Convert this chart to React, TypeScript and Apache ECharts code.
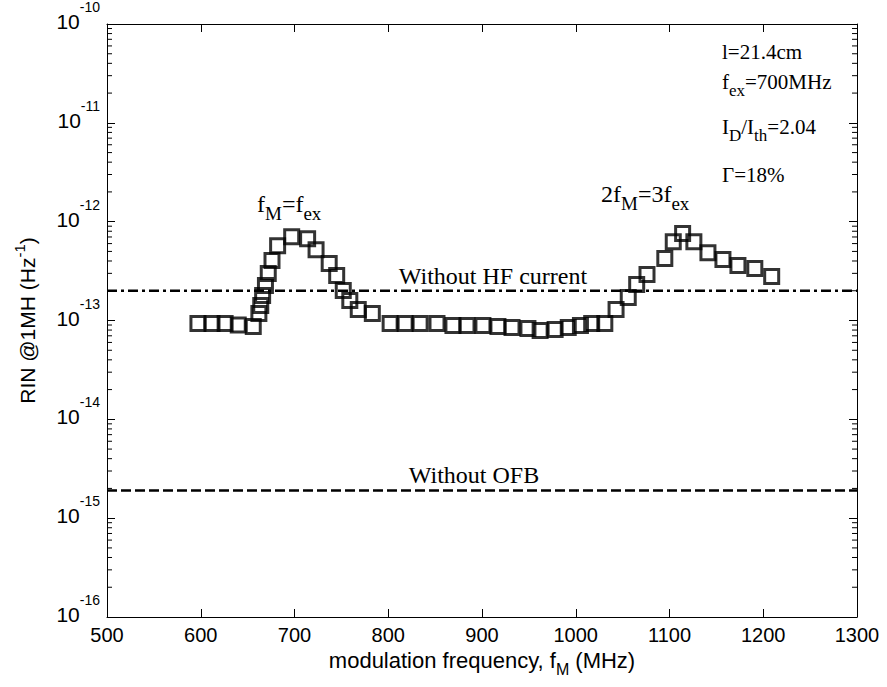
import React, { useEffect, useRef } from "react";
import * as echarts from "echarts";

// modulation frequency (MHz)
const freq = [597, 612, 626, 640, 656, 662, 664, 666, 669, 672, 676, 682, 697, 714, 723, 737, 745, 752, 759, 768, 783,
  802, 818, 834, 852, 869, 884, 901, 917, 932, 949, 962, 978, 992, 1005, 1017, 1031, 1043, 1056, 1065, 1076, 1095,
  1104, 1114, 1126, 1141, 1157, 1173, 1191, 1209];
// RIN (Hz^-1)
const rin = [9.3e-14, 9.3e-14, 9.3e-14, 9.0e-14, 8.7e-14, 1.18e-13, 1.42e-13, 1.79e-13, 2.26e-13, 2.99e-13, 4.04e-13,
  5.72e-13, 7.05e-13, 6.73e-13, 5.21e-13, 3.77e-13, 2.85e-13, 2.01e-13, 1.59e-13, 1.29e-13, 1.18e-13,
  9.3e-14, 9.3e-14, 9.3e-14, 9.3e-14, 8.9e-14, 8.9e-14, 8.9e-14, 8.7e-14, 8.5e-14, 8.3e-14, 7.9e-14, 8.1e-14,
  8.5e-14, 8.9e-14, 9.3e-14, 9.3e-14, 1.29e-13, 1.71e-13, 2.31e-13, 2.92e-13, 4.23e-13, 6.28e-13, 7.57e-13,
  6.28e-13, 4.86e-13, 4.13e-13, 3.6e-13, 3.35e-13, 2.78e-13];

const hfLevel = 2.0e-13; // Without HF current
const ofbLevel = 1.9e-15; // Without OFB

const xMin = 500;
const xMax = 1300;
const xStep = 100;
const yMin = 1e-16;
const yMax = 1e-10;
const decadeExponents = [-16, -15, -14, -13, -12, -11];
const minorMultipliers = [2, 3, 4, 5, 6, 7, 8, 9];

const SANS = "'Liberation Sans', Arial, sans-serif";
const SERIF = "'Liberation Serif', 'Times New Roman', serif";

export default function App() {
  const ref = useRef<HTMLDivElement>(null);

  useEffect(() => {
    if (!ref.current) return;
    const chart = echarts.init(ref.current, undefined, { renderer: "svg" });

    const minorVals: number[][] = [];
    decadeExponents.forEach((e) => minorMultipliers.forEach((m) => minorVals.push([xMin, m * Math.pow(10, e)])));

    const mkRich = (base: number, sub: number, drop: number) => ({
      n: { fontFamily: SERIF, fontSize: base, color: "#000", verticalAlign: "bottom", lineHeight: base + 2, padding: [0, 0, drop, 0] },
      sub: { fontFamily: SERIF, fontSize: sub, color: "#000", verticalAlign: "bottom", lineHeight: sub + 2 },
    });

    const ann = (x: number, y: number, text: string, rich: any, align = "left") => ({
      type: "text",
      x,
      y,
      silent: true,
      style: {
        text,
        rich,
        align,
        verticalAlign: "middle",
        fill: "#000",
        font: `21px ${SERIF}`,
      },
    });

    const richBig = mkRich(24, 19, 7);
    const richSide = mkRich(21, 17, 6);

    const option: any = {
      animation: false,
      backgroundColor: "#fff",
      grid: { left: 107, right: 30, top: 23, bottom: 70, containLabel: false },
      xAxis: [
        {
          type: "value",
          min: xMin,
          max: xMax,
          interval: xStep,
          position: "bottom",
          axisLine: { show: true, onZero: false, lineStyle: { color: "#000", width: 1 } },
          axisTick: { show: true, inside: true, length: 8, lineStyle: { color: "#000" } },
          splitLine: { show: false },
          axisLabel: { color: "#000", fontFamily: SANS, fontSize: 20, margin: 8, formatter: (v: number) => String(v) },
          name: "{n|modulation frequency, f}{sub|M}{n| (MHz)}",
          nameLocation: "middle",
          nameGap: 36,
          nameTextStyle: {
            rich: {
              n: { fontFamily: SANS, fontSize: 22, color: "#000", verticalAlign: "bottom", lineHeight: 23, padding: [0, 0, 6, 0] },
              sub: { fontFamily: SANS, fontSize: 16, color: "#000", verticalAlign: "bottom", lineHeight: 17 },
            },
          },
        },
        {
          type: "value",
          min: xMin,
          max: xMax,
          interval: xStep,
          position: "top",
          axisLine: { show: true, onZero: false, lineStyle: { color: "#000", width: 1 } },
          axisTick: { show: true, inside: true, length: 8, lineStyle: { color: "#000" } },
          splitLine: { show: false },
          axisLabel: { show: false },
        },
      ],
      yAxis: [
        {
          type: "log",
          logBase: 10,
          min: yMin,
          max: yMax,
          splitNumber: 6,
          position: "left",
          axisLine: { show: true, onZero: false, lineStyle: { color: "#000", width: 1 } },
          axisTick: { show: true, inside: true, length: 8, lineStyle: { color: "#000" } },
          splitLine: { show: false },
          axisLabel: {
            margin: 7,
            formatter: (v: number) => `{b|10}{s|${Math.round(Math.log10(v))}}`,
            rich: {
              b: { fontFamily: SANS, fontSize: 21, color: "#000", verticalAlign: "bottom", lineHeight: 22, padding: [0, 0, 3, 0] },
              s: { fontFamily: SANS, fontSize: 14, color: "#000", verticalAlign: "bottom", lineHeight: 15, padding: [0, 0, 21, 0] },
            },
          },
          name: "{n|RIN @1MH (Hz}{s|-1}{n|)}",
          nameLocation: "middle",
          nameGap: 69,
          nameRotate: 90,
          nameTextStyle: {
            rich: {
              n: { fontFamily: SANS, fontSize: 21, color: "#000", verticalAlign: "bottom", lineHeight: 22 },
              s: { fontFamily: SANS, fontSize: 15, color: "#000", verticalAlign: "bottom", lineHeight: 16, padding: [0, 0, 11, 0] },
            },
          },
        },
        {
          type: "log",
          logBase: 10,
          min: yMin,
          max: yMax,
          splitNumber: 6,
          position: "right",
          axisLine: { show: true, onZero: false, lineStyle: { color: "#000", width: 1 } },
          axisTick: { show: true, inside: true, length: 8, lineStyle: { color: "#000" } },
          splitLine: { show: false },
          axisLabel: { show: false },
        },
      ],
      series: [
        {
          type: "custom",
          xAxisIndex: 0,
          yAxisIndex: 0,
          silent: true,
          clip: false,
          data: minorVals,
          renderItem: (_p: any, api: any) => {
            const v = api.value(1);
            const l = api.coord([xMin, v]);
            const r = api.coord([xMax, v]);
            return {
              type: "group",
              children: [
                { type: "line", shape: { x1: l[0], y1: l[1], x2: l[0] + 5, y2: l[1] }, style: { stroke: "#000", lineWidth: 1 } },
                { type: "line", shape: { x1: r[0], y1: r[1], x2: r[0] - 5, y2: r[1] }, style: { stroke: "#000", lineWidth: 1 } },
              ],
            };
          },
        },
        {
          type: "line",
          data: [[xMin, hfLevel], [xMax, hfLevel]],
          symbol: "none",
          silent: true,
          lineStyle: { color: "#000", width: 2.5, type: [10, 4, 3, 4] },
        },
        {
          type: "line",
          data: [[xMin, ofbLevel], [xMax, ofbLevel]],
          symbol: "none",
          silent: true,
          lineStyle: { color: "#000", width: 2.5, type: [10, 4] },
        },
        {
          type: "scatter",
          data: freq.map((f, i) => [f, rin[i]]),
          symbol: "rect",
          symbolSize: 14,
          silent: true,
          itemStyle: { color: "transparent", borderColor: "#000", borderWidth: 3 },
        },
      ],
      graphic: [
        ann(493, 275, "{n|Without HF current}", mkRich(24, 18, 0), "center"),
        ann(474, 474, "{n|Without OFB}", mkRich(24, 18, 0), "center"),
        ann(257, 210, "{n|f}{sub|M}{n|=f}{sub|ex}", richBig),
        ann(601, 200, "{n|2f}{sub|M}{n|=3f}{sub|ex}", richBig),
        ann(722, 51, "{n|l=21.4cm}", mkRich(21, 17, 0)),
        ann(722, 87, "{n|f}{sub|ex}{n|=700MHz}", richSide),
        ann(722, 132, "{n|I}{sub|D}{n|/I}{sub|th}{n|=2.04}", richSide),
        ann(722, 174, "{n|Γ=18%}", mkRich(21, 17, 0)),
      ],
    };

    chart.setOption(option);
    return () => chart.dispose();
  }, []);

  return (
    <div
      ref={ref}
      style={{ position: "fixed", left: 0, top: 0, width: 887, height: 687, background: "#fff" }}
    />
  );
}
